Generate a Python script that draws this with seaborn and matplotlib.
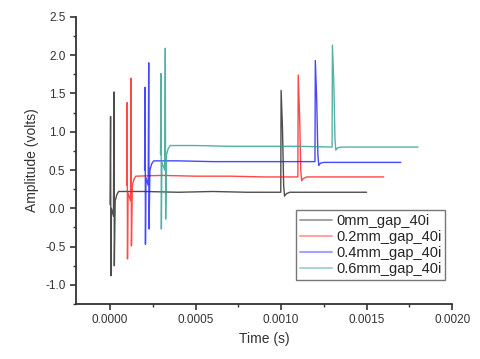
import numpy as np
import pandas as pd
import matplotlib
matplotlib.use('Agg')
import matplotlib.pyplot as plt
from matplotlib.ticker import MultipleLocator, FormatStrFormatter
import seaborn as sns

# 데이터
labels = ['0mm_gap_40i', '0.2mm_gap_40i', '0.4mm_gap_40i', '0.6mm_gap_40i']

t_0mm = [0.000000, 0.000003, 0.000005, 0.000008, 0.000020, 0.000023, 0.000025, 0.000030,
         0.000040, 0.000050, 0.000200, 0.000400, 0.000600, 0.000800, 0.000998,
         0.001000, 0.001008, 0.001015, 0.001020, 0.001030, 0.001050, 0.001500]
v_0mm = [0.05, 1.20, -0.88, 0.00, -0.10, 1.52, -0.75, 0.10,
         0.18, 0.22, 0.22, 0.21, 0.22, 0.21, 0.21,
         1.54, 1.05, 0.30, 0.16, 0.19, 0.21, 0.21]

t_02mm = [0.000097, 0.000100, 0.000102, 0.000105, 0.000120, 0.000123, 0.000125, 0.000130,
          0.000140, 0.000150, 0.000300, 0.000500, 0.000700, 0.000900, 0.001098,
          0.001100, 0.001108, 0.001115, 0.001120, 0.001130, 0.001150, 0.001600]
v_02mm = [0.30, 1.38, -0.66, 0.20, 0.10, 1.70, -0.49, 0.30,
          0.38, 0.42, 0.43, 0.42, 0.42, 0.41, 0.41,
          1.74, 1.22, 0.50, 0.36, 0.39, 0.41, 0.41]

t_04mm = [0.000202, 0.000205, 0.000207, 0.000210, 0.000223, 0.000226, 0.000228, 0.000233,
          0.000243, 0.000255, 0.000400, 0.000600, 0.000800, 0.001000, 0.001198,
          0.001200, 0.001208, 0.001215, 0.001220, 0.001230, 0.001250, 0.001700]
v_04mm = [0.50, 1.58, -0.47, 0.40, 0.30, 1.90, -0.27, 0.50,
          0.58, 0.62, 0.62, 0.61, 0.61, 0.61, 0.61,
          1.93, 1.42, 0.70, 0.56, 0.59, 0.60, 0.60]

t_06mm = [0.000295, 0.000298, 0.000300, 0.000303, 0.000320, 0.000323, 0.000325, 0.000330,
          0.000340, 0.000352, 0.000500, 0.000700, 0.000900, 0.001100, 0.001298,
          0.001300, 0.001308, 0.001315, 0.001320, 0.001330, 0.001350, 0.001800]
v_06mm = [0.70, 1.76, -0.27, 0.60, 0.50, 2.09, -0.14, 0.70,
          0.78, 0.82, 0.82, 0.81, 0.81, 0.81, 0.80,
          2.13, 1.64, 0.90, 0.76, 0.79, 0.80, 0.80]

colors = ['#222222', '#ff1a1a', '#1a1aff', '#2a9d8f']

times = [t_0mm, t_02mm, t_04mm, t_06mm]
values = [v_0mm, v_02mm, v_04mm, v_06mm]
df = pd.concat([pd.DataFrame({'time': t, 'amp': v, 'series': lab})
                for t, v, lab in zip(times, values, labels)], ignore_index=True)

sns.set_style('ticks')
plt.rcParams['font.family'] = ['Liberation Sans', 'DejaVu Sans']

fig = plt.figure(figsize=(4.8, 3.59), dpi=100)
ax = fig.add_axes([0.158, 0.153, 0.784, 0.800])

sns.lineplot(data=df, x='time', y='amp', hue='series', hue_order=labels,
             palette=dict(zip(labels, colors)), estimator=None, sort=False,
             linewidth=1.0, alpha=0.8, ax=ax)

ax.set_xlim(-0.0002, 0.002)
ax.set_ylim(-1.25, 2.5)
ax.xaxis.set_major_locator(MultipleLocator(0.0005))
ax.xaxis.set_minor_locator(MultipleLocator(0.00025))
ax.yaxis.set_major_locator(MultipleLocator(0.5))
ax.yaxis.set_minor_locator(MultipleLocator(0.25))
ax.xaxis.set_major_formatter(FormatStrFormatter('%.4f'))
ax.yaxis.set_major_formatter(FormatStrFormatter('%.1f'))
ax.set_xticks([0, 0.0005, 0.001, 0.0015, 0.002])

sns.despine(ax=ax)
for sp in ['left', 'bottom']:
    ax.spines[sp].set_linewidth(1.3)
    ax.spines[sp].set_color('#333333')
ax.tick_params(which='major', length=4, width=1.2, color='#333333',
               labelsize=8.5, labelcolor='#333333', direction='out')
ax.tick_params(which='minor', length=2.5, width=1.0, color='#333333', direction='out')

ax.set_xlabel('Time (s)', fontsize=10, color='#333333')
ax.set_ylabel('Amplitude (volts)', fontsize=10, color='#333333')

leg = ax.legend(loc='lower left', bbox_to_anchor=(0.585, 0.084), borderaxespad=0,
                fontsize=10.5, frameon=True, fancybox=False, title=None,
                handlelength=2.2, handletextpad=0.3, borderpad=0.25, labelspacing=0.15)
leg.get_frame().set_edgecolor('#555555')
leg.get_frame().set_linewidth(1.0)
for h in leg.get_lines():
    h.set_alpha(0.4)
    h.set_linewidth(1.5)

fig.savefig('out.png', dpi=100)
